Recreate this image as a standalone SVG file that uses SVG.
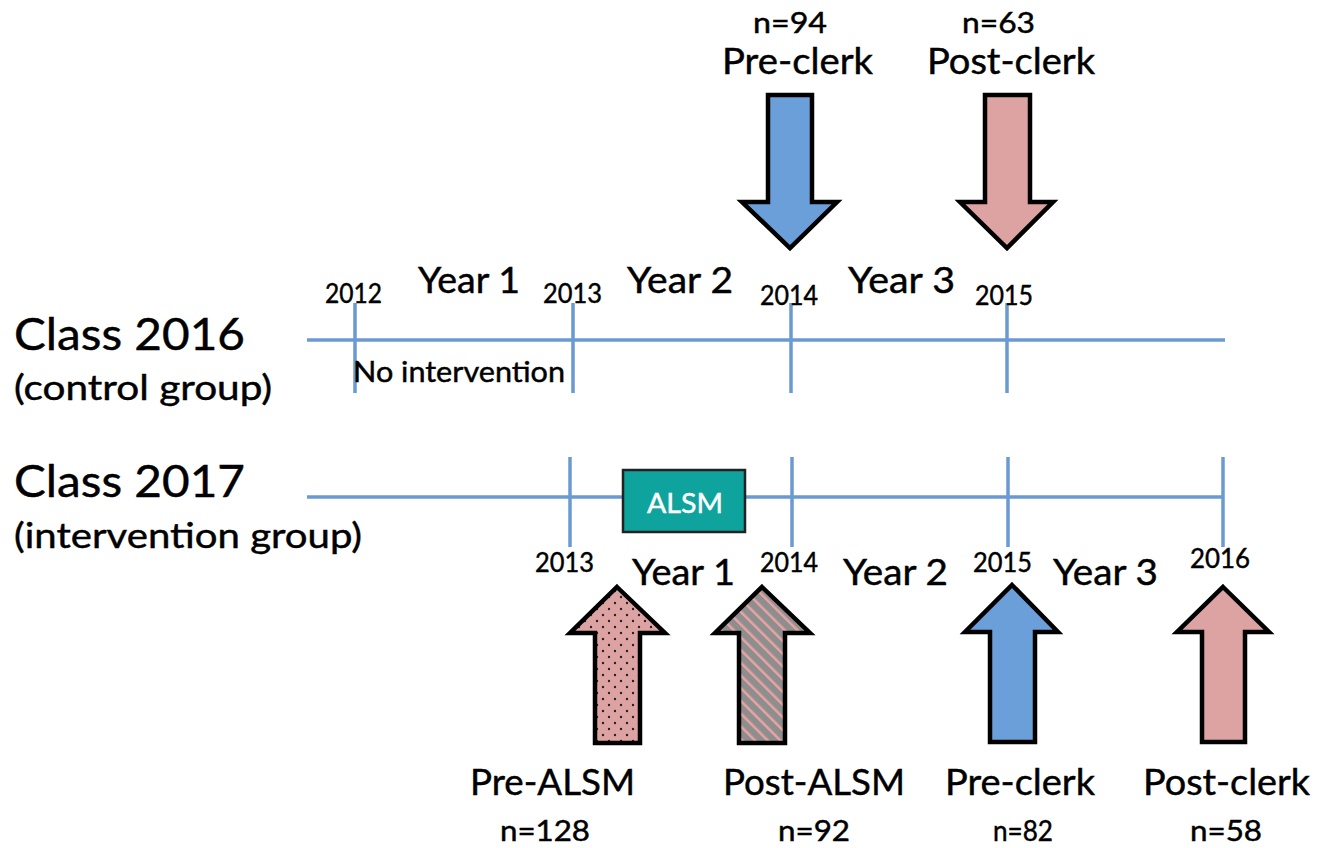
<svg xmlns="http://www.w3.org/2000/svg" width="1331" height="848" viewBox="0 0 1331 848">
<style>
text{font-family:Lato,"Open Sans","Liberation Sans",sans-serif;fill:#000;stroke:#000;stroke-width:0.45}
.big{font-size:45px}
.sub{font-size:35px}
.yr{font-size:36px}
.dt{font-size:27px}
.lbl{font-size:36px}
.n{font-size:28px}
.tl{stroke:#6A9AD2;stroke-width:3.5;fill:none}
.arr{stroke:#000;stroke-width:4.5;stroke-linejoin:miter}
</style>
<defs>
<pattern id="dots" width="12" height="12" patternUnits="userSpaceOnUse">
<rect width="12" height="12" fill="#DDA3A3"/>
<circle cx="3" cy="3" r="1.2" fill="#222"/>
<circle cx="9" cy="9" r="1.2" fill="#222"/>
</pattern>
<pattern id="stripes" width="9" height="9" patternUnits="userSpaceOnUse" patternTransform="rotate(-45)">
<rect width="9" height="9" fill="#8E8E8E"/>
<rect x="0" y="0" width="2.5" height="9" fill="#E8A3A3"/>
</pattern>
</defs>
<rect width="1331" height="848" fill="#fff"/>

<g id="labels-left">
<text class="big" x="14" y="350" textLength="231" lengthAdjust="spacingAndGlyphs">Class 2016</text>
<text class="sub" x="14" y="400" textLength="258" lengthAdjust="spacingAndGlyphs">(control group)</text>
<text class="big" x="14" y="497" textLength="231" lengthAdjust="spacingAndGlyphs">Class 2017</text>
<text class="sub" x="14" y="548" textLength="348" lengthAdjust="spacingAndGlyphs">(intervention group)</text>
</g>

<g id="connectors">
<line class="tl" x1="307" y1="340" x2="1225" y2="340"/>
<line class="tl" x1="355" y1="303" x2="355" y2="393"/>
<line class="tl" x1="573" y1="303" x2="573" y2="393"/>
<line class="tl" x1="791" y1="303" x2="791" y2="393"/>
<line class="tl" x1="1007" y1="303" x2="1007" y2="393"/>
<line class="tl" x1="307" y1="497" x2="1223" y2="497"/>
<line class="tl" x1="570" y1="457" x2="570" y2="547"/>
<line class="tl" x1="792" y1="457" x2="792" y2="547"/>
<line class="tl" x1="1008" y1="457" x2="1008" y2="547"/>
<line class="tl" x1="1223" y1="457" x2="1223" y2="547"/>
</g>

<g id="timeline-2016-labels">
<text class="dt" x="325" y="303" textLength="57" lengthAdjust="spacingAndGlyphs">2012</text>
<text class="yr" x="418" y="293" textLength="102" lengthAdjust="spacingAndGlyphs">Year 1</text>
<text class="dt" x="543" y="303" textLength="59" lengthAdjust="spacingAndGlyphs">2013</text>
<text class="yr" x="627" y="293" textLength="106" lengthAdjust="spacingAndGlyphs">Year 2</text>
<text class="dt" x="760" y="305" textLength="58" lengthAdjust="spacingAndGlyphs">2014</text>
<text class="yr" x="848" y="293" textLength="107" lengthAdjust="spacingAndGlyphs">Year 3</text>
<text class="dt" x="975" y="305" textLength="58" lengthAdjust="spacingAndGlyphs">2015</text>
<text x="353" y="382" style="font-size:29px" textLength="212" lengthAdjust="spacingAndGlyphs">No intervention</text>
</g>

<g id="alsm">
<rect x="623" y="470" width="122" height="62" fill="#0FA39D" stroke="#222" stroke-width="2.5"/>
<text x="647" y="513" style="font-size:27px;fill:#fff;stroke:#fff" textLength="76" lengthAdjust="spacingAndGlyphs">ALSM</text>
</g>

<g id="timeline-2017-labels">
<text class="dt" x="535" y="572" textLength="59" lengthAdjust="spacingAndGlyphs">2013</text>
<text class="yr" x="632" y="585" textLength="103" lengthAdjust="spacingAndGlyphs">Year 1</text>
<text class="dt" x="760" y="572" textLength="58" lengthAdjust="spacingAndGlyphs">2014</text>
<text class="yr" x="843" y="585" textLength="105" lengthAdjust="spacingAndGlyphs">Year 2</text>
<text class="dt" x="973" y="572" textLength="59" lengthAdjust="spacingAndGlyphs">2015</text>
<text class="yr" x="1053" y="585" textLength="105" lengthAdjust="spacingAndGlyphs">Year 3</text>
<text class="dt" x="1190" y="568" textLength="60" lengthAdjust="spacingAndGlyphs">2016</text>
</g>

<g id="top-preclerk">
<text class="n" x="753" y="33" textLength="74" lengthAdjust="spacingAndGlyphs">n=94</text>
<text class="lbl" x="722" y="74" textLength="151" lengthAdjust="spacingAndGlyphs">Pre-clerk</text>
<path class="arr" fill="#6A9FD9" d="M768,95 H812 V202 H837 L790,248 L742,202 H768 Z"/>
</g>
<g id="top-postclerk">
<text class="n" x="962" y="33" textLength="73" lengthAdjust="spacingAndGlyphs">n=63</text>
<text class="lbl" x="927" y="74" textLength="168" lengthAdjust="spacingAndGlyphs">Post-clerk</text>
<path class="arr" fill="#DDA3A3" d="M985,95 H1030 V202 H1053 L1007,248 L960,202 H985 Z"/>
</g>

<g id="pre-alsm">
<path class="arr" fill="url(#dots)" d="M617,587 L665,633 H640 V743 H595 V633 H570 Z"/>
<text class="lbl" x="470" y="795" textLength="165" lengthAdjust="spacingAndGlyphs">Pre-ALSM</text>
<text class="n" x="500" y="841" textLength="90" lengthAdjust="spacingAndGlyphs">n=128</text>
</g>
<g id="post-alsm">
<path class="arr" fill="url(#stripes)" d="M762,587 L810,633 H785 V743 H739 V633 H715 Z"/>
<text class="lbl" x="723" y="795" textLength="182" lengthAdjust="spacingAndGlyphs">Post-ALSM</text>
<text class="n" x="778" y="841" textLength="72" lengthAdjust="spacingAndGlyphs">n=92</text>
</g>
<g id="bottom-preclerk">
<path class="arr" fill="#6A9FD9" d="M1012,585 L1058,632 H1035 V742 H990 V632 H965 Z"/>
<text class="lbl" x="945" y="795" textLength="150" lengthAdjust="spacingAndGlyphs">Pre-clerk</text>
<text class="n" x="993" y="841" textLength="60" lengthAdjust="spacingAndGlyphs">n=82</text>
</g>
<g id="bottom-postclerk">
<path class="arr" fill="#DDA3A3" d="M1223,587 L1269,632 H1245 V742 H1202 V632 H1177 Z"/>
<text class="lbl" x="1143" y="795" textLength="167" lengthAdjust="spacingAndGlyphs">Post-clerk</text>
<text class="n" x="1190" y="841" textLength="72" lengthAdjust="spacingAndGlyphs">n=58</text>
</g>
</svg>
